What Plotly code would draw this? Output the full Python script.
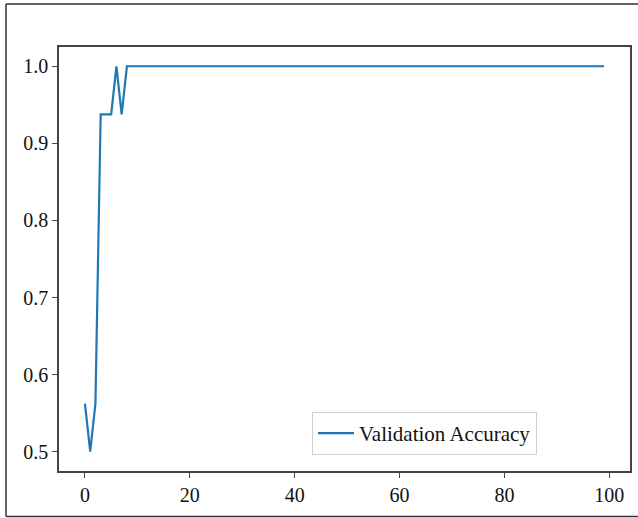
import plotly.graph_objects as go

epochs = list(range(100))
val_acc_head = [0.5625, 0.5, 0.5625, 0.9375, 0.9375, 0.9375, 1.0, 0.9375, 1.0]
val_acc = val_acc_head + [1.0] * (100 - len(val_acc_head))

x_ticks = [0, 20, 40, 60, 80, 100]
y_ticks = [0.5, 0.6, 0.7, 0.8, 0.9, 1.0]
y_tick_labels = ["0.5", "0.6", "0.7", "0.8", "0.9", "1.0"]

W, H = 638, 518
L, R, T, B = 59, 8, 47, 47
pw, ph = W - L - R, H - T - B

def px(x):
    return (x - L) / pw

def py(y):
    return (H - B - y) / ph

FONT = "Liberation Serif, Times New Roman, serif"

fig = go.Figure()
fig.add_trace(go.Scatter(
    x=epochs, y=val_acc, mode="lines", name="Validation Accuracy",
    line=dict(color="#1f77b4", width=2.2),
))

axis_common = dict(
    showline=True, mirror=True, linecolor="#444", linewidth=1.5,
    ticks="outside", ticklen=5, tickwidth=1.2, tickcolor="#444",
    showgrid=False, zeroline=False, automargin=False,
    tickfont=dict(family=FONT, size=20, color="#111"),
)

fig.update_layout(
    width=W, height=H,
    margin=dict(l=L, r=R, t=T, b=B, autoexpand=False),
    paper_bgcolor="white", plot_bgcolor="white",
    xaxis=dict(range=[-4.95, 103.95], tickvals=x_ticks, **axis_common),
    yaxis=dict(range=[0.475, 1.025], tickvals=y_ticks, ticktext=y_tick_labels, **axis_common),
    legend=dict(
        x=px(312), y=py(412), xanchor="left", yanchor="top",
        bgcolor="white", bordercolor="#d0d0d0", borderwidth=1,
        itemwidth=36,
        font=dict(family=FONT, size=21, color="#111"),
    ),
    showlegend=True,
    shapes=[
        dict(type="line", xref="paper", yref="paper",
             x0=px(6), x1=px(6), y0=py(516.5), y1=py(4),
             line=dict(color="#333", width=1.5)),
        dict(type="line", xref="paper", yref="paper",
             x0=px(6), x1=px(638), y0=py(4), y1=py(4),
             line=dict(color="#333", width=1.5)),
        dict(type="line", xref="paper", yref="paper",
             x0=px(6), x1=px(638), y0=py(516.5), y1=py(516.5),
             line=dict(color="#333", width=1.5)),
    ],
)

fig.write_html(
    "out.html",
    config={"displayModeBar": False},
    post_script="document.body.style.margin='0';document.body.style.padding='0';document.body.style.overflow='hidden';",
)
